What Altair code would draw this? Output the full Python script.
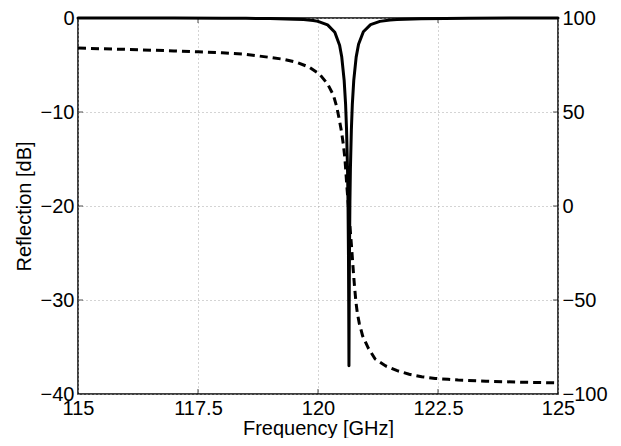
import altair as alt
import pandas as pd

# Reflection (solid, left axis, dB)
freq_refl = [115.0, 116.0, 117.0, 118.0, 118.5, 119.0, 119.5, 119.7, 119.9, 120.0,
             120.2, 120.35, 120.45, 120.495, 120.545, 120.575, 120.595, 120.615,
             120.625, 120.635, 120.640, 120.645, 120.650, 120.655, 120.665, 120.675,
             120.695, 120.715, 120.745, 120.795, 120.845, 120.945, 121.095, 121.29,
             121.5, 121.645, 122.145, 123.145, 124.0, 125.0]
refl_db = [-0.01, -0.01, -0.01, -0.02, -0.03, -0.06, -0.12, -0.17, -0.27, -0.36,
           -0.73, -1.51, -2.90, -4.16, -6.63, -9.2, -11.9, -16.1,
           -19.5, -25.3, -30.5, -37.0, -30.5, -25.3, -19.5, -16.1,
           -11.9, -9.2, -6.63, -4.16, -2.79, -1.46, -0.71, -0.36,
           -0.21, -0.15, -0.07, -0.03, -0.01, -0.01]

# Phase (dashed, right axis)
freq_phase = [115.0, 116.0, 117.0, 117.5, 118.0, 118.48, 118.76, 119.04, 119.29, 119.56,
              119.81, 120.03, 120.2, 120.32, 120.39, 120.44, 120.49, 120.53, 120.56,
              120.58, 120.6, 120.63, 120.66, 120.68, 120.70, 120.72, 120.74, 120.76,
              120.79, 120.82, 120.86, 120.93, 121.05, 121.19, 121.41, 121.65, 121.9,
              122.16, 122.44, 122.71, 122.92, 123.5, 124.2, 125.0]
phase_deg = [84.0, 83.3, 82.5, 82.0, 81.5, 80.7, 79.8, 78.9, 78.0, 76.4,
             73.9, 70.2, 64.9, 59.0, 52.8, 46.5, 39.5, 32.4, 25.4,
             18.5, 11.0, 1.0, -9.0, -15.5, -22.0, -29.0, -36.0, -42.5,
             -51.0, -57.0, -62.4, -69.1, -75.7, -81.4, -85.1, -87.6, -89.5,
             -90.8, -91.7, -92.2, -92.6, -93.2, -93.7, -94.1]

x_ticks = [115, 117.5, 120, 122.5, 125]
left_ticks = [-40, -30, -20, -10, 0]
right_ticks = [-100, -50, 0, 50, 100]
inner_x = [117.5, 120, 122.5]
inner_y = [-30, -20, -10]

FONT = "Liberation Sans"
FS = 20

df_r = pd.DataFrame({"f": freq_refl, "v": refl_db})
df_p = pd.DataFrame({"f": freq_phase, "v": phase_deg})
df_xt = pd.DataFrame({"f": inner_x * 2, "v": [-40] * 3 + [0] * 3})
df_yt = pd.DataFrame({"f": [115] * 3 + [125] * 3, "v": inner_y * 2})

xscale = alt.Scale(domain=[115, 125], nice=False, zero=False)
lscale = alt.Scale(domain=[-40, 0], nice=False, zero=False)
rscale = alt.Scale(domain=[-100, 100], nice=False, zero=False)

common = dict(labelFont=FONT, labelFontSize=FS, labelColor="black",
              titleFont=FONT, titleFontSize=FS, titleFontWeight="normal",
              titleColor="black", ticks=False, domain=False, labelFlush=False,
              labelOverlap=False,
              gridColor="#a8a8a8", gridDash=[1, 3], gridWidth=1)

x_axis = alt.Axis(values=x_ticks, format=".1~f", title="Frequency [GHz]", grid=True,
                  labelPadding=4, titlePadding=0, **common)
l_axis = alt.Axis(values=left_ticks, format=".0f", title="Reflection [dB]", grid=True,
                  labelPadding=4, titlePadding=6, **common)
r_axis = alt.Axis(values=right_ticks, format=".0f", title=None, grid=False,
                  orient="right", labelPadding=4, **common)

X = alt.X("f:Q", scale=xscale, axis=x_axis)
YL = alt.Y("v:Q", scale=lscale, axis=l_axis)

refl = alt.Chart(df_r).mark_line(color="black", strokeWidth=3, strokeJoin="round",
                                 strokeCap="round").encode(x=X, y=YL)
xt = alt.Chart(df_xt).mark_tick(orient="vertical", size=10, thickness=1,
                                color="black", clip=True).encode(x=X, y=YL)
yt = alt.Chart(df_yt).mark_tick(orient="horizontal", size=10, thickness=1,
                                color="black", clip=True).encode(x=X, y=YL)
left = alt.layer(xt, yt, refl)

phase = alt.Chart(df_p).mark_line(color="black", strokeWidth=3,
                                  strokeDash=[8, 5]).encode(
    x=X, y=alt.Y("v:Q", scale=rscale, axis=r_axis))

chart = alt.layer(left, phase).resolve_scale(y="independent").properties(
    width=480, height=376,
    padding={"left": 70, "top": 10, "right": 55, "bottom": 44},
    autosize=alt.AutoSizeParams(type="none"),
    background="white",
).configure_view(stroke="black", strokeWidth=1.5)

chart.save("out.html", embed_options={"renderer": "svg", "actions": False})
